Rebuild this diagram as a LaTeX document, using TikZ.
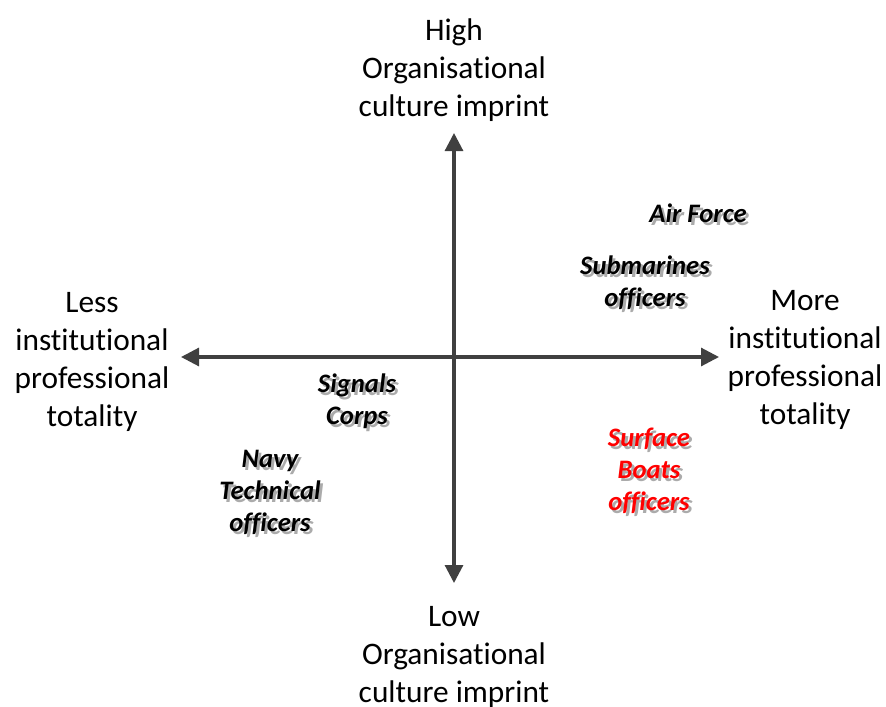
\documentclass[tikz,border=0pt]{standalone}
\usepackage{fontspec}
\setmainfont{Carlito}[Ligatures={NoCommon}]
\usetikzlibrary{arrows.meta}
\definecolor{axisgray}{HTML}{404040}
\definecolor{shadowgray}{HTML}{ABABAB}
\definecolor{surfred}{HTML}{FF0000}
\tikzset{
  axis/.style={draw=axisgray, line width=2.3pt,
    -{Triangle[width=13.5pt,length=13.5pt]}},
  poletext/.style={align=center, inner sep=0pt, font=\fontsize{23.5}{28.5}\selectfont},
  grouptext/.style={align=center, inner sep=0pt,
    font=\fontsize{20}{24}\selectfont\bfseries\itshape}
}
% one line of text with a grey drop shadow behind it
\newcommand{\shadowline}[1]{%
  \rlap{\kern2.1pt\raisebox{-2.1pt}{\textcolor{shadowgray}{#1}}}#1}
\begin{document}
\begin{tikzpicture}[x=0.75pt, y=-0.75pt]
\useasboundingbox (0,0) rectangle (886,707);

% centre of the chart and the four axis ends
\coordinate (origin) at (454,357);
\coordinate (top) at (454,133);
\coordinate (bottom) at (454,583);
\coordinate (left) at (181,357);
\coordinate (right) at (719,357);

\draw[axis] (origin) -- (top);
\draw[axis] (origin) -- (bottom);
\draw[axis] (origin) -- (left);
\draw[axis] (origin) -- (right);

% pole labels
\node[poletext] (high) at (454,70) {High\\Organisational\\culture imprint};
\node[poletext] (low) at (454,657) {Low\\Organisational\\culture imprint};
\node[poletext] (less) at (92,362) {Less\\institutional\\professional\\totality};
\node[poletext] (more) at (805,360) {More\\institutional\\professional\\totality};

% groups placed on the chart
\node[grouptext] (airforce) at (698,215) {\shadowline{Air Force}};
\node[grouptext] (submarines) at (645,284) {\shadowline{Submarines}\\\shadowline{officers}};
\node[grouptext] (signals) at (357,403) {\shadowline{Signals}\\\shadowline{Corps}};
\node[grouptext, text=surfred] (surface) at (649,472)
  {\shadowline{Surface}\\\shadowline{Boats}\\\shadowline{officers}};
\node[grouptext] (navy) at (270,494) {\shadowline{Navy}\\\shadowline{Technical}\\\shadowline{officers}};
\end{tikzpicture}
\end{document}
